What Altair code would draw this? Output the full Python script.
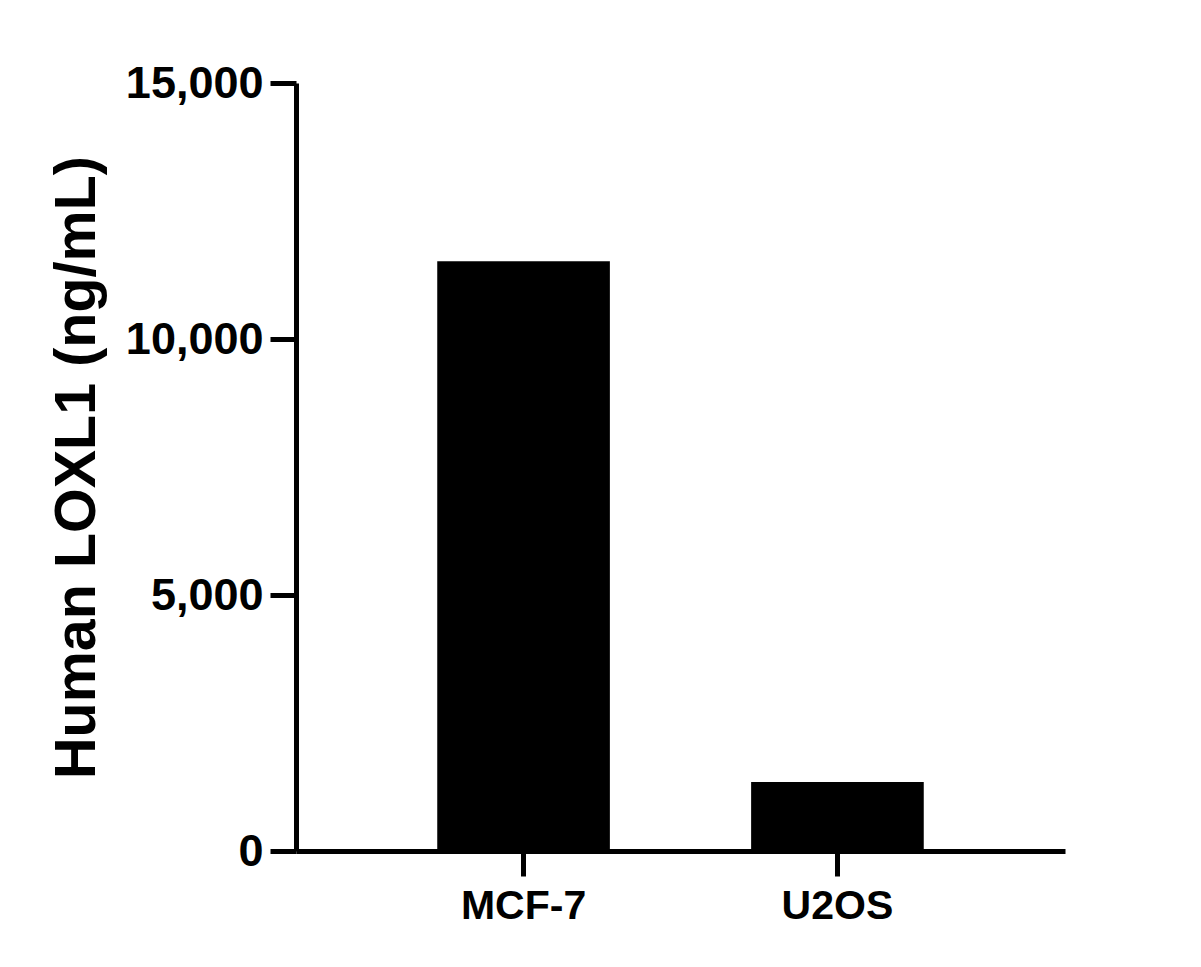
import altair as alt
import pandas as pd

cell_lines = ["MCF-7", "U2OS"]
loxl1 = [11520, 1350]
y_ticks = [0, 5000, 10000, 15000]

df = pd.DataFrame({"cell": cell_lines, "value": loxl1})

FONT = "Liberation Sans"

bars = alt.Chart(df).mark_bar(color="black").encode(
    x=alt.X(
        "cell:N",
        sort=cell_lines,
        scale=alt.Scale(paddingInner=0.45, paddingOuter=0.45),
        axis=alt.Axis(
            title=None,
            labelAngle=0,
            labelFont=FONT,
            labelFontSize=41,
            labelFontWeight="bold",
            labelColor="black",
            labelPadding=10,
            tickSize=25,
            tickWidth=5,
            tickColor="black",
            domainWidth=5,
            domainColor="black",
        ),
    ),
    y=alt.Y(
        "value:Q",
        scale=alt.Scale(domain=[0, 15000], nice=False),
        axis=alt.Axis(
            title="Human LOXL1 (ng/mL)",
            values=y_ticks,
            format=",.0f",
            grid=False,
            labelFont=FONT,
            labelFontSize=45,
            labelFontWeight="bold",
            labelColor="black",
            labelPadding=7,
            tickSize=26,
            tickWidth=5,
            tickColor="black",
            domainWidth=5,
            domainColor="black",
            titleFont=FONT,
            titleFontSize=57.5,
            titleFontWeight="bold",
            titleColor="black",
            titlePadding=19,
        ),
    ),
)

chart = bars.properties(
    width=769,
    height=768,
    autosize=alt.AutoSizeParams(type="none"),
    padding={"left": 288, "top": 75, "right": 120, "bottom": 100},
).configure_view(stroke=None)

chart.save("out.html", embed_options={"renderer": "svg", "actions": False})
